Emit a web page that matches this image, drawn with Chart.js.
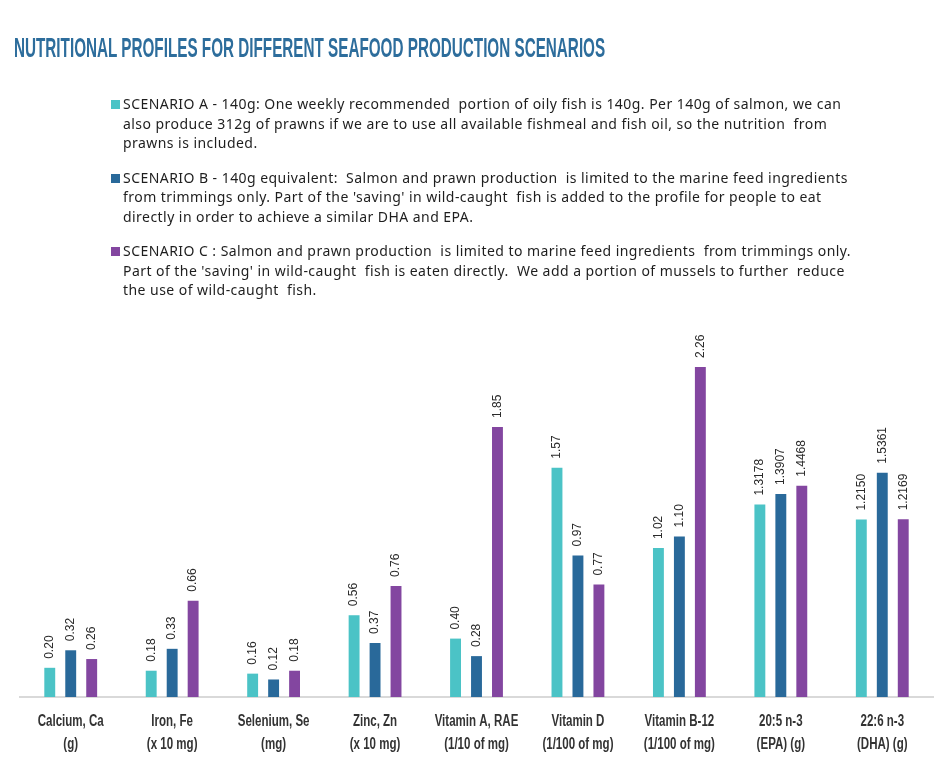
<!DOCTYPE html>
<html>
<head>
<meta charset="utf-8">
<script src="https://cdn.jsdelivr.net/npm/chart.js@4.4.1/dist/chart.umd.min.js"></script>
<style>
  html, body { margin: 0; padding: 0; background: #fff; }
  #wrap { position: relative; width: 952px; height: 776px; overflow: hidden; }
  #chart { position: absolute; left: 0; top: 0; }
  #title {
    position: absolute; left: 14px; top: 33px; white-space: nowrap;
    font-family: "Liberation Sans", Arial, sans-serif;
    font-weight: bold; font-size: 28px; line-height: 30px; color: #2d6d9c;
    transform-origin: 0 0;
  }
  #notes {
    position: absolute; left: 111px; top: 94px; width: 800px;
    font-family: "Noto Sans", "Open Sans", sans-serif; font-size: 14px;
    letter-spacing: 0.45px; line-height: 19.5px; color: #1e1e1e; white-space: nowrap;
  }
  .note { position: relative; padding-left: 12px; margin-bottom: 15px; }
  .note i { position: absolute; left: 0; top: 6px; width: 9px; height: 9px; }
</style>
</head>
<body>
<div id="wrap">
  <canvas id="chart" width="952" height="776"></canvas>
  <div id="title">NUTRITIONAL PROFILES FOR DIFFERENT SEAFOOD PRODUCTION SCENARIOS</div>
  <div id="notes"></div>
</div>
<script>
var categories = [
  ["Calcium, Ca", "(g)"],
  ["Iron, Fe", "(x 10 mg)"],
  ["Selenium, Se", "(mg)"],
  ["Zinc, Zn", "(x 10 mg)"],
  ["Vitamin A, RAE", "(1/10 of mg)"],
  ["Vitamin D", "(1/100 of mg)"],
  ["Vitamin B-12", "(1/100 of mg)"],
  ["20:5 n-3", "(EPA) (g)"],
  ["22:6 n-3", "(DHA) (g)"]
];
var decimals = [2, 2, 2, 2, 2, 2, 2, 4, 4];
var scenarioA = [0.20, 0.18, 0.16, 0.56, 0.40, 1.57, 1.02, 1.3178, 1.2150];
var scenarioB = [0.32, 0.33, 0.12, 0.37, 0.28, 0.97, 1.10, 1.3907, 1.5361];
var scenarioC = [0.26, 0.66, 0.18, 0.76, 1.85, 0.77, 2.26, 1.4468, 1.2169];
var seriesNames = ["SCENARIO A", "SCENARIO B", "SCENARIO C"];
var colors = ["#4bc3c6", "#29699a", "#8346a0"];
var notes = [
  "SCENARIO A - 140g: One weekly recommended  portion of oily fish is 140g. Per 140g of salmon, we can<br>also produce 312g of prawns if we are to use all available fishmeal and fish oil, so the nutrition  from<br>prawns is included.",
  "SCENARIO B - 140g equivalent:  Salmon and prawn production  is limited to the marine feed ingredients<br>from trimmings only. Part of the 'saving' in wild-caught  fish is added to the profile for people to eat<br>directly in order to achieve a similar DHA and EPA.",
  "SCENARIO C : Salmon and prawn production  is limited to marine feed ingredients  from trimmings only.<br>Part of the 'saving' in wild-caught  fish is eaten directly.  We add a portion of mussels to further  reduce<br>the use of wild-caught  fish."
];

// legend text block
var notesEl = document.getElementById("notes");
notes.forEach(function (t, i) {
  var d = document.createElement("div");
  d.className = "note";
  d.innerHTML = '<i style="background:' + colors[i] + '"></i>' + t.replace(/  /g, " &nbsp;");
  notesEl.appendChild(d);
});

// squeeze title to the reference width
var titleEl = document.getElementById("title");
titleEl.style.transform = "scale(" + (591 / titleEl.offsetWidth) + ",1)";

var LABEL_FONT = 'bold 16px "Liberation Sans", Arial, sans-serif';

// condensed two-line category labels, placed with the x scale
var categoryLabels = {
  id: "categoryLabels",
  afterDraw: function (chart) {
    var ctx = chart.ctx, xs = chart.scales.x, bottom = chart.chartArea.bottom;
    ctx.save();
    ctx.font = LABEL_FONT;
    var sx = 66 / ctx.measureText("Calcium, Ca").width;
    ctx.fillStyle = "#333333";
    ctx.textAlign = "center";
    ctx.textBaseline = "alphabetic";
    categories.forEach(function (lines, i) {
      var x = xs.getPixelForValue(i);
      lines.forEach(function (line, j) {
        ctx.save();
        ctx.translate(x, bottom + 29 + j * 23);
        ctx.scale(sx, 1);
        ctx.fillText(line, 0, 0);
        ctx.restore();
      });
    });
    ctx.restore();
  }
};

var valueLabels = {
  id: "valueLabels",
  afterDatasetsDraw: function (chart) {
    var ctx = chart.ctx;
    ctx.save();
    ctx.font = '12px "Liberation Sans", Arial, sans-serif';
    ctx.fillStyle = "#2a2a2a";
    ctx.textAlign = "left";
    ctx.textBaseline = "middle";
    chart.data.datasets.forEach(function (ds, di) {
      chart.getDatasetMeta(di).data.forEach(function (bar, i) {
        ctx.save();
        ctx.translate(bar.x, bar.y - 9);
        ctx.rotate(-Math.PI / 2);
        ctx.fillText(ds.data[i].toFixed(decimals[i]), 0, 0);
        ctx.restore();
      });
    });
    ctx.restore();
  }
};

new Chart(document.getElementById("chart"), {
  type: "bar",
  data: {
    labels: categories.map(function (c) { return c.join(" "); }),
    datasets: [scenarioA, scenarioB, scenarioC].map(function (vals, i) {
      return {
        label: seriesNames[i],
        data: vals,
        backgroundColor: colors[i],
        categoryPercentage: 0.62,
        barPercentage: 0.52
      };
    })
  },
  options: {
    responsive: false,
    animation: false,
    layout: { padding: { top: 332, left: 20, right: 19, bottom: 0 } },
    plugins: { legend: { display: false }, tooltip: { enabled: false } },
    scales: {
      x: {
        grid: { display: false },
        border: { display: true, color: "#d9d9d9", width: 2 },
        ticks: { display: false },
        afterFit: function (scale) { scale.height = 79; }
      },
      y: { display: false, min: 0, max: 2.5 }
    }
  },
  plugins: [valueLabels, categoryLabels]
});
</script>
</body>
</html>
